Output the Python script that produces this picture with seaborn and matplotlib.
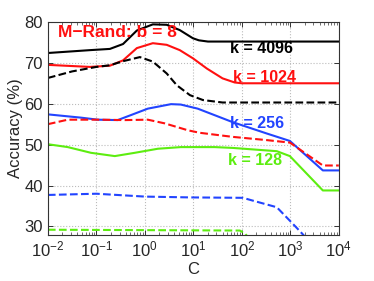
import numpy as np
import pandas as pd
import matplotlib
matplotlib.use("Agg")
import matplotlib.pyplot as plt
import matplotlib.ticker as mticker
import seaborn as sns

# ---- data ----
c_k4096 = [0.01, 0.0735, 0.19, 0.355, 0.684, 1.46, 2.82, 5.25, 9.8, 13.0, 20.0, 49, 10000]
acc_k4096 = [72.4, 73.1, 73.4, 74.6, 77.9, 79.4, 79.3, 78.0, 76.0, 75.5, 75.2, 75.2, 75.2]

c_k1024 = [0.01, 0.0735, 0.19, 0.355, 0.684, 1.46, 2.82, 5.25, 9.8, 19, 40, 71, 100, 10000]
acc_k1024 = [69.5, 69.0, 69.3, 70.6, 73.6, 74.8, 74.4, 73.1, 71.1, 68.6, 66.2, 65.2, 65.0, 65.0]

c_k4096_d = [0.01, 0.0316, 0.1, 0.19, 0.355, 0.79, 1.46, 2.82, 4.57, 8.5, 15.8, 40, 10000]
acc_k4096_d = [66.3, 67.9, 69.0, 69.4, 70.4, 71.4, 70.3, 67.4, 64.5, 62.1, 60.9, 60.3, 60.3]

c_k256 = [0.01, 0.048, 0.107, 0.275, 0.51, 1.15, 3.47, 5.5, 12.3, 64.6, 331, 977, 4680, 10000]
acc_k256 = [57.4, 56.6, 56.1, 56.0, 57.2, 58.8, 59.9, 59.8, 58.8, 55.5, 52.7, 50.9, 43.7, 43.7]

c_k1024_d = [0.01, 0.0257, 0.107, 0.39, 1.15, 2.57, 7.76, 13.5, 64.6, 331, 977, 4680, 10000]
acc_k1024_d = [55.0, 56.1, 56.1, 56.0, 56.1, 55.2, 53.5, 52.9, 51.9, 51.1, 50.5, 44.9, 44.9]

c_k128 = [0.01, 0.0257, 0.0776, 0.24, 0.617, 1.86, 5.5, 27.5, 64.6, 525, 977, 4680, 10000]
acc_k128 = [50.1, 49.4, 48.0, 47.2, 48.0, 49.0, 49.4, 49.4, 49.2, 48.4, 47.2, 38.8, 38.8]

c_k256_d = [0.01, 0.1, 1.0, 8.5, 105, 170, 525, 977, 1585, 2000]
acc_k256_d = [37.7, 38.0, 37.3, 37.1, 37.0, 36.3, 34.7, 31.4, 28.8, 27.5]

c_k128_d = [0.01, 1.0, 91, 115, 132]
acc_k128_d = [29.2, 29.1, 29.0, 28.3, 27.5]

y_ticks = [30, 40, 50, 60, 70, 80]
x_ticks = [1e-2, 1e-1, 1e0, 1e1, 1e2, 1e3, 1e4]

BLACK = "#000000"
RED = "#ff1010"
BLUE = "#2244ff"
GREEN = "#5ded10"

series = [
    (c_k4096, acc_k4096, BLACK, "-"),
    (c_k1024, acc_k1024, RED, "-"),
    (c_k4096_d, acc_k4096_d, BLACK, "--"),
    (c_k256, acc_k256, BLUE, "-"),
    (c_k1024_d, acc_k1024_d, RED, "--"),
    (c_k128, acc_k128, GREEN, "-"),
    (c_k256_d, acc_k256_d, BLUE, "--"),
    (c_k128_d, acc_k128_d, GREEN, "--"),
]

sns.set_style("ticks")
plt.rcParams["font.family"] = ["Liberation Sans", "DejaVu Sans"]
plt.rcParams["mathtext.default"] = "regular"

fig = plt.figure(figsize=(3.74, 2.81), dpi=100)
ax = fig.add_axes([0.128, 0.165, 0.778, 0.757])

for cx, cy, col, ls in series:
    df = pd.DataFrame({"C": cx, "acc": cy})
    sns.lineplot(data=df, x="C", y="acc", ax=ax, color=col, linestyle=ls,
                 linewidth=1.5, sort=False, estimator=None)

ax.set_xscale("log")
ax.set_xlim(1e-2, 1e4)
ax.set_ylim(28, 80)
ax.set_yticks(y_ticks)
ax.set_xticks(x_ticks)
ax.xaxis.set_minor_locator(mticker.LogLocator(base=10, subs=np.arange(2, 10), numticks=20))
ax.xaxis.set_minor_formatter(mticker.NullFormatter())

ax.grid(True, which="major", linestyle=":", color="#bbbbbb", linewidth=0.8)
ax.set_axisbelow(True)
ax.tick_params(axis="both", which="both", direction="in", top=True, right=True,
               labelsize=12, color="#333333")
ax.tick_params(which="major", length=3.5, width=0.7)
ax.tick_params(which="minor", length=2, width=0.5)
for sp in ax.spines.values():
    sp.set_color("#333333")
    sp.set_linewidth(0.8)

ax.set_xlabel("C", fontsize=12, labelpad=2)
ax.set_ylabel("Accuracy (%)", fontsize=12, labelpad=1)

ax.text(0.0162, 77.3, "M\u2212Rand: b = 8", color=RED, fontsize=12.5,
        fontweight="bold", ha="left", va="center")
ax.text(56, 73.6, "k = 4096", color=BLACK, fontsize=11.5, fontweight="bold",
        ha="left", va="center")
ax.text(65, 66.5, "k = 1024", color=RED, fontsize=11.5, fontweight="bold",
        ha="left", va="center")
ax.text(56, 55.2, "k = 256", color=BLUE, fontsize=11.5, fontweight="bold",
        ha="left", va="center")
ax.text(51, 46.2, "k = 128", color=GREEN, fontsize=11.5, fontweight="bold",
        ha="left", va="center")

fig.savefig("out.png", dpi=100)
